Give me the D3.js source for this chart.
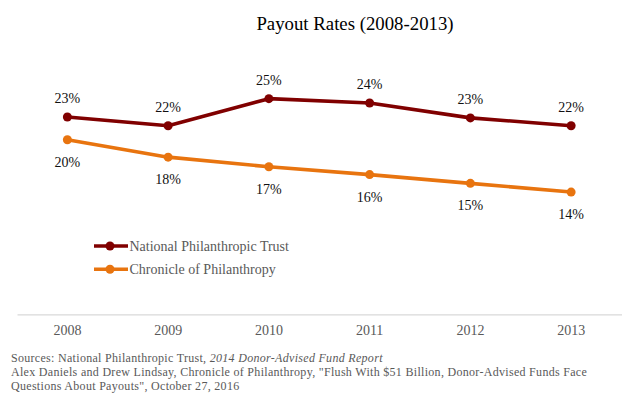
<!DOCTYPE html>
<html>
<head>
<meta charset="utf-8">
<script src="https://cdn.jsdelivr.net/npm/d3@7"></script>
<style>
  html, body { margin: 0; padding: 0; background: #fff; }
  svg { display: block; font-family: "Liberation Serif", "Times New Roman", serif; }
</style>
</head>
<body>
<svg id="chart" width="640" height="402"></svg>
<script>
const years = ["2008", "2009", "2010", "2011", "2012", "2013"];
const nptValues = [22.6, 21.6, 24.7, 24.2, 22.5, 21.6];
const nptLabels = ["23%", "22%", "25%", "24%", "23%", "22%"];
const copValues = [20.0, 18.0, 16.9, 16.0, 15.0, 14.0];
const copLabels = ["20%", "18%", "17%", "16%", "15%", "14%"];
const seriesNames = ["National Philanthropic Trust", "Chronicle of Philanthropy"];
const titleText = "Payout Rates (2008-2013)";
const sourceLines = [
  [["Sources: National Philanthropic Trust, ", false], ["2014 Donor-Advised Fund Report", true]],
  [["Alex Daniels and Drew Lindsay, Chronicle of Philanthropy, \"Flush With $51 Billion, Donor-Advised Funds Face", false]],
  [["Questions About Payouts\", October 27, 2016", false]]
];

const colors = ["#800000", "#E8740F"];
const series = [
  { name: seriesNames[0], values: nptValues, labels: nptLabels, color: colors[0], above: true },
  { name: seriesNames[1], values: copValues, labels: copLabels, color: colors[1], above: false }
];

const svg = d3.select("#chart");

const x = d3.scaleBand().domain(years).range([17, 621.5]).padding(0);
const y = d3.scaleLinear().domain([0, 30]).range([314.3, 52.4]);
const cx = d => x(d) + x.bandwidth() / 2;

// Title
svg.append("text")
  .attr("x", 355).attr("y", 30)
  .attr("text-anchor", "middle")
  .attr("font-size", 18.8)
  .attr("fill", "#000")
  .text(titleText);

// X axis
const xAxis = svg.append("g")
  .attr("transform", `translate(0,${y(0)})`)
  .call(d3.axisBottom(x).tickSize(0).tickSizeOuter(0).tickPadding(11));
xAxis.select(".domain").attr("stroke", "#d9d9d9").attr("stroke-width", 1.2);
xAxis.selectAll("text")
  .attr("font-size", 14)
  .attr("font-family", "Liberation Serif, Times New Roman, serif")
  .attr("fill", "#595959");

// Lines
const line = d3.line().x((d, i) => cx(years[i])).y(d => y(d));

series.forEach(s => {
  svg.append("path")
    .datum(s.values)
    .attr("fill", "none")
    .attr("stroke", s.color)
    .attr("stroke-width", 3.6)
    .attr("stroke-linejoin", "round")
    .attr("d", line);

  svg.append("g").selectAll("circle")
    .data(s.values)
    .join("circle")
    .attr("cx", (d, i) => cx(years[i]))
    .attr("cy", d => y(d))
    .attr("r", 4.5)
    .attr("fill", s.color);

  svg.append("g").selectAll("text")
    .data(s.values)
    .join("text")
    .attr("x", (d, i) => cx(years[i]))
    .attr("y", d => s.above ? y(d) - 14 : y(d) + 27)
    .attr("text-anchor", "middle")
    .attr("font-size", 14)
    .attr("fill", "#111")
    .text((d, i) => s.labels[i]);
});

// Legend
const legendY = [246, 269.3];
series.forEach((s, i) => {
  const g = svg.append("g");
  g.append("line")
    .attr("x1", 94).attr("x2", 128)
    .attr("y1", legendY[i]).attr("y2", legendY[i])
    .attr("stroke", s.color).attr("stroke-width", 3.6);
  g.append("circle")
    .attr("cx", 110).attr("cy", legendY[i]).attr("r", 4.5)
    .attr("fill", s.color);
  g.append("text")
    .attr("x", 129.5).attr("y", legendY[i] + 4.7)
    .attr("font-size", 14)
    .attr("fill", "#595959")
    .text(s.name);
});

// Sources
const srcBase = [362, 375.8, 389.6];
sourceLines.forEach((parts, i) => {
  const t = svg.append("text")
    .attr("x", 11).attr("y", srcBase[i])
    .attr("font-size", 12)
    .attr("letter-spacing", 0.3)
    .attr("fill", "#595959");
  parts.forEach(p => {
    t.append("tspan")
      .attr("font-style", p[1] ? "italic" : "normal")
      .text(p[0]);
  });
});
</script>
</body>
</html>
